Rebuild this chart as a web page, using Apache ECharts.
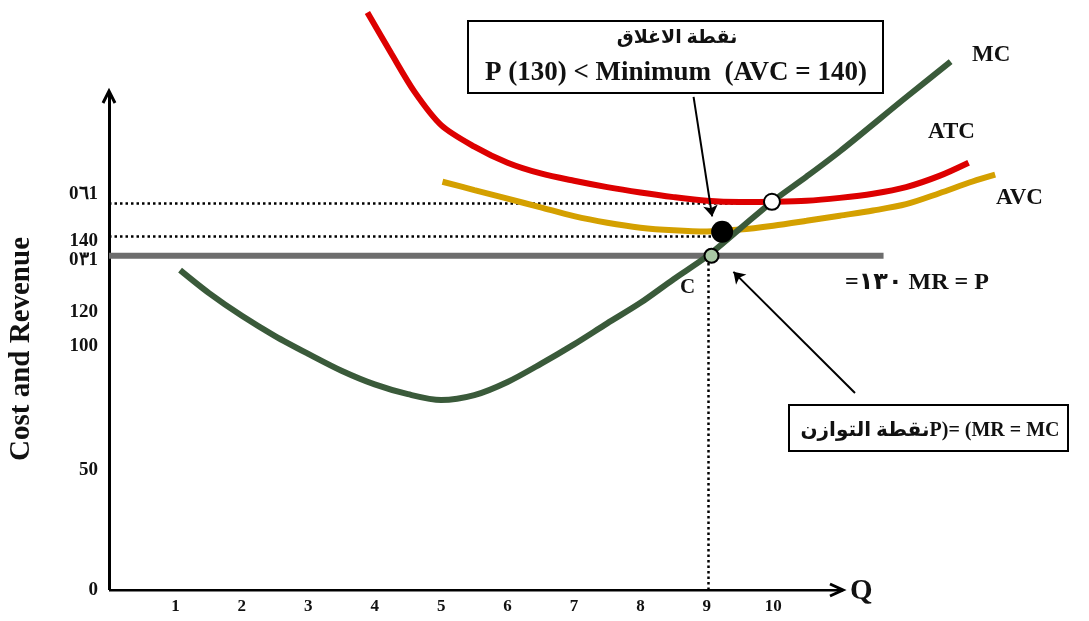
<!DOCTYPE html>
<html>
<head>
<meta charset="utf-8">
<script src="https://cdn.jsdelivr.net/npm/echarts@6/dist/echarts.min.js"></script>
<style>
  html, body { margin: 0; padding: 0; background: #fff; }
  #chart { width: 1089px; height: 621px; }
</style>
</head>
<body>
<div id="chart"></div>
<script>
// quantities on the x axis
const qTicks = [1, 2, 3, 4, 5, 6, 7, 8, 9, 10];
// y tick positions (drawing units) and the labels printed there
const yTickValues = [0, 49, 100, 114, 135, 143, 162];
const yTickLabels = ['0', '50', '100', '120', '0٣1', '140', '0٦1'];

// MC curve
const mcQ = [1.07, 1.5, 2, 2.5, 3, 3.5, 4, 4.5, 5, 5.5, 6, 6.5, 7, 7.5, 8, 8.5, 9, 9.5, 10, 10.5, 11, 12, 12.67];
const mcC = [131, 121.7, 112.3, 104, 96.7, 89.8, 84.2, 80.2, 77.8, 79.8, 85.2, 92.6, 100.6, 109.2, 117.6, 127.3, 136.6, 148, 159.4, 169.3, 179.6, 201.8, 216.4];
// ATC curve
const atcQ = [3.89, 4.25, 4.6, 5, 5.5, 6, 6.5, 7, 7.5, 8, 8.5, 9, 9.5, 10, 10.5, 11, 11.5, 12, 12.5, 12.94];
const atcC = [236.5, 219.7, 204, 190.4, 181.6, 175, 170.6, 167.6, 165, 162.8, 160.9, 159.4, 158.9, 159, 159.4, 160.6, 162.3, 165, 169.6, 175];
// AVC curve
const avcQ = [5.02, 5.5, 6, 6.5, 7, 7.5, 8, 8.5, 9, 9.5, 10, 10.5, 11, 11.5, 12, 12.5, 13, 13.34];
const avcC = [167.2, 163.8, 160.3, 156.7, 153.1, 150.4, 148.4, 147.3, 146.8, 147.6, 149.2, 151.2, 153.3, 155.4, 158, 162.5, 167.3, 170.1];
// MR = P line
const mrQ = [0, 11.66];
const mrP = [136.9, 136.9];
// key points: shutdown, ATC min, equilibrium
const shutdownPt = [9.23, 146.7];
const atcMinPt = [9.98, 159];
const equilPt = [9.07, 136.9];

const pairs = (xs, ys) => xs.map((x, i) => [x, ys[i]]);
const serif = 'Liberation Serif, Times New Roman, DejaVu Serif, serif';
const arabic = 'Liberation Serif, DejaVu Sans, serif';

const label = (x, y, text, size, font) => ({
  type: 'text', x: x, y: y, z: 12,
  style: { text: text, font: 'bold ' + size + 'px ' + (font || serif), fill: '#111', verticalAlign: 'middle' }
});
const head = (pts) => ({
  type: 'polyline', z: 12,
  shape: { points: pts },
  style: { stroke: '#000', lineWidth: 3, fill: null, lineJoin: 'miter' }
});

const chart = echarts.init(document.getElementById('chart'));
chart.setOption({
  animation: false,
  grid: { left: 109, right: 50, top: 4, bottom: 31 },
  xAxis: {
    type: 'value', min: 0, max: 14, interval: 1,
    axisLine: { show: false }, axisTick: { show: false }, splitLine: { show: false },
    axisLabel: {
      customValues: qTicks, margin: 8,
      fontFamily: serif, fontWeight: 'bold', fontSize: 17, color: '#111'
    }
  },
  yAxis: {
    type: 'value', min: 0, max: 240,
    axisLine: { show: false }, axisTick: { show: false }, splitLine: { show: false },
    axisLabel: {
      customValues: yTickValues, margin: 11,
      formatter: (v) => yTickLabels[yTickValues.indexOf(v)],
      fontFamily: serif, fontWeight: 'bold', fontSize: 19, color: '#111'
    }
  },
  series: [
    {
      // axes
      type: 'lines', coordinateSystem: 'cartesian2d', z: 1,
      lineStyle: { color: '#000', width: 3, opacity: 1 },
      data: [
        { coords: [[0, 0], [0, 204]] },
        { coords: [[0, 0], [11.05, 0]] }
      ]
    },
    {
      type: 'line', data: pairs(mrQ, mrP), showSymbol: false, z: 2,
      lineStyle: { color: '#6d6d6d', width: 6 }
    },
    {
      // dotted guides
      type: 'lines', coordinateSystem: 'cartesian2d', z: 3,
      lineStyle: { color: '#000', width: 2.5, type: [2.5, 3], opacity: 1 },
      data: [
        { coords: [[0, 158.6], [atcMinPt[0], 158.6]] },
        { coords: [[0, 144.9], [shutdownPt[0] - 0.1, 144.9]] },
        { coords: [[equilPt[0] - 0.05, 0], [equilPt[0] - 0.05, equilPt[1]]] }
      ]
    },
    {
      type: 'line', data: pairs(atcQ, atcC), smooth: 0.3, showSymbol: false, z: 4,
      lineStyle: { color: '#dd0000', width: 6 }
    },
    {
      type: 'line', data: pairs(avcQ, avcC), smooth: 0.3, showSymbol: false, z: 4,
      lineStyle: { color: '#d4a000', width: 6 }
    },
    {
      type: 'line', data: pairs(mcQ, mcC), smooth: 0.3, showSymbol: false, z: 5,
      lineStyle: { color: '#3a5a3a', width: 6 }
    },
    {
      // annotation arrows
      type: 'lines', coordinateSystem: 'cartesian2d', z: 6,
      symbol: ['none', 'arrow'], symbolSize: 11,
      lineStyle: { color: '#000', width: 2, opacity: 1 },
      data: [
        { coords: [[8.8, 202], [9.08, 153]] },
        { coords: [[11.23, 80.7], [9.4, 130.3]] }
      ]
    },
    {
      type: 'scatter', z: 7,
      data: [
        { value: shutdownPt, symbolSize: 22, itemStyle: { color: '#000', opacity: 1 } },
        { value: atcMinPt, symbolSize: 16, itemStyle: { color: '#fff', borderColor: '#000', borderWidth: 2, opacity: 1 } },
        { value: equilPt, symbolSize: 14, itemStyle: { color: '#a9c9a4', borderColor: '#000', borderWidth: 2, opacity: 1 } }
      ]
    }
  ],
  graphic: [
    head([[103, 103], [109, 91], [115, 103]]),
    head([[830, 584], [843, 590], [830, 596]]),
    {
      type: 'text', left: 7, top: 237, rotation: Math.PI / 2,
      style: { text: 'Cost and Revenue', font: 'bold 29px ' + serif, fill: '#111' }
    },
    label(850, 592, 'Q', 29),
    label(680, 288, 'C', 21),
    label(972, 55, 'MC', 23),
    label(928, 132, 'ATC', 23),
    label(996, 198, 'AVC', 23),
    label(845, 283, '=١٣٠ MR = P', 24, arabic),
    {
      type: 'rect', z: 10,
      shape: { x: 468, y: 21, width: 415, height: 72 },
      style: { fill: '#fff', stroke: '#000', lineWidth: 2 }
    },
    {
      type: 'text', z: 11, x: 677, y: 38,
      style: { text: 'نقطة الاغلاق', font: 'bold 19px ' + arabic, fill: '#111', align: 'center', verticalAlign: 'middle' }
    },
    {
      type: 'text', z: 11, x: 676, y: 73,
      style: { text: 'P (130) < Minimum  (AVC = 140)', font: 'bold 27px ' + serif, fill: '#111', align: 'center', verticalAlign: 'middle' }
    },
    {
      type: 'rect', z: 10,
      shape: { x: 789, y: 405, width: 279, height: 46 },
      style: { fill: '#fff', stroke: '#000', lineWidth: 2 }
    },
    {
      type: 'text', z: 11, x: 930, y: 431,
      style: { text: 'نقطة التوازنP)= (MR = MC', font: 'bold 20px ' + arabic, fill: '#111', align: 'center', verticalAlign: 'middle' }
    }
  ]
});
</script>
</body>
</html>
